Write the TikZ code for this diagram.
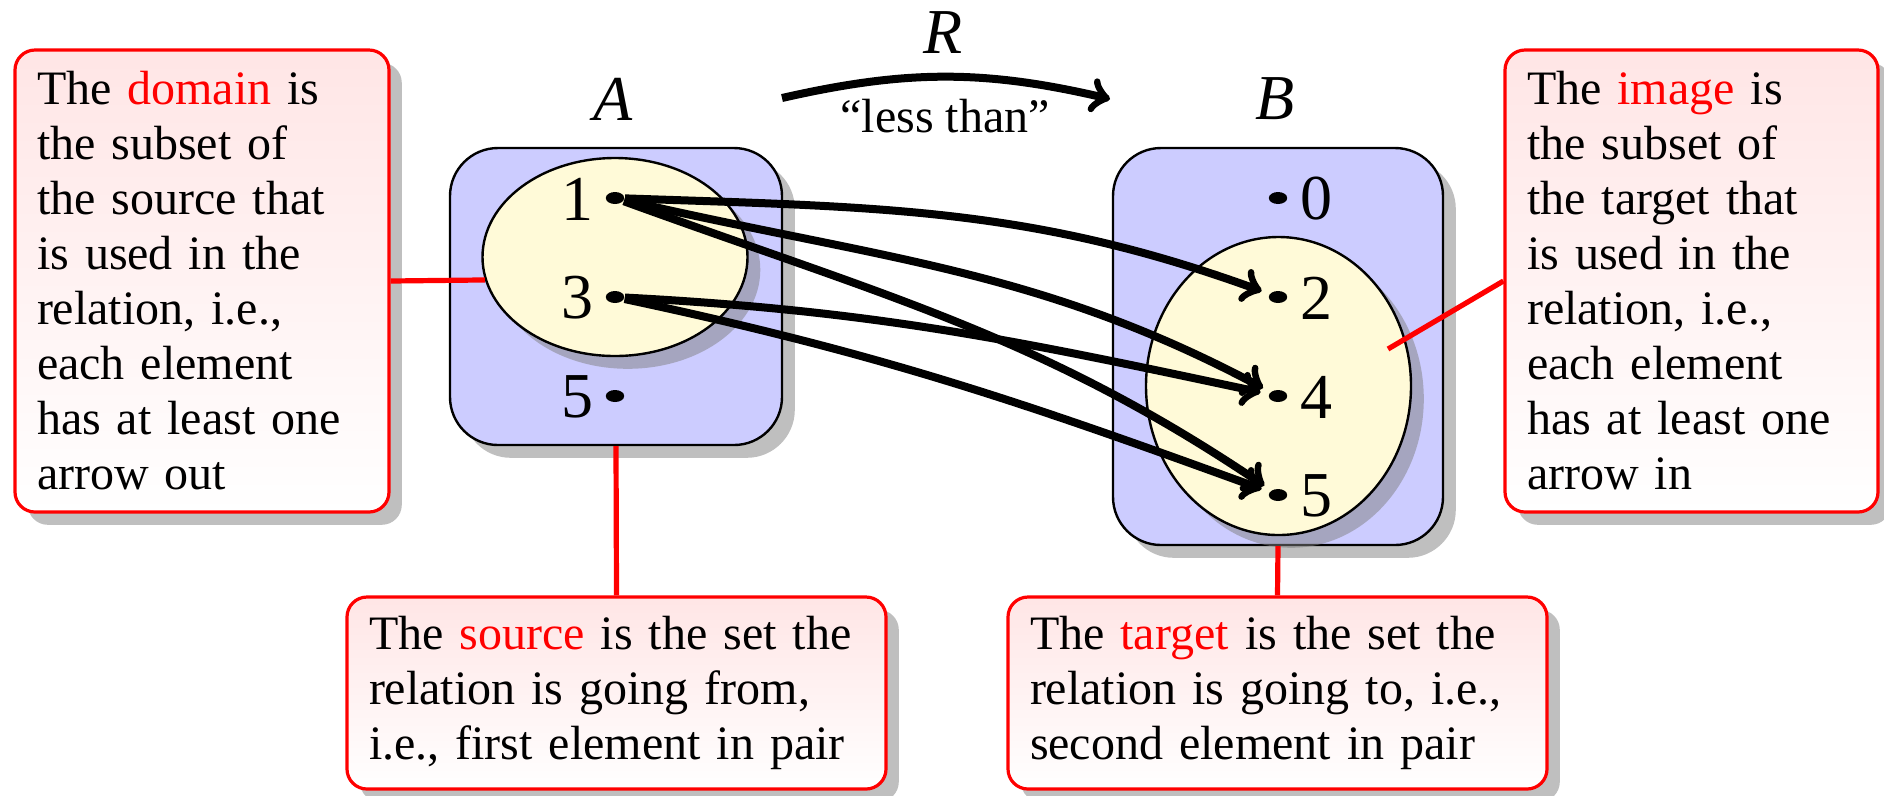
\documentclass[tikz,border=0pt]{standalone}
\usepackage{fontspec}
\setmainfont{Liberation Serif}
\usetikzlibrary{shapes.geometric,shadows}
\definecolor{setblue}{RGB}{204,204,255}
\definecolor{cream}{RGB}{255,250,216}
\begin{document}
\begin{tikzpicture}[x=0.25pt,y=-0.25pt,
  shad/.style={drop shadow={shadow xshift=3.2pt,shadow yshift=-3.2pt}},
  callout/.style={draw=red, line width=0.8pt, rounded corners=5pt, top color=red!10, bottom color=white,
    shad, align=left, font=\fontsize{12}{13.75}\selectfont, inner xsep=5.5pt, inner ysep=0pt},
  setbox/.style={draw=black, line width=0.6pt, fill=setblue, rounded corners=12pt, shad, inner sep=0pt},
  subset/.style={ellipse, draw=black, line width=0.6pt, fill=cream, shad, inner sep=0pt},
  dot/.style={ellipse, fill=black, inner sep=0pt, minimum width=4.6pt, minimum height=3pt},
  num/.style={font=\fontsize{16}{18}\selectfont, inner sep=0pt},
  setname/.style={font=\fontsize{16}{18}\selectfont\itshape, inner sep=0pt},
  rel/.style={->, line width=2pt},
  conn/.style={draw=red, line width=1.3pt}
]
\useasboundingbox (0,0) rectangle (1884,795);
\fill[white] (0,0) rectangle (1884,795);

% callouts
\node[callout, minimum width=93.5pt, minimum height=115.5pt, text width=82.5pt] (domain) at (202,281)
  {The \textcolor{red}{domain} is\\the subset of\\the source that\\is used in the\\relation, i.e.,\\each element\\has at least one\\arrow out};
\node[callout, minimum width=93.25pt, minimum height=115.5pt, text width=82.25pt] (image) at (1691.5,281)
  {The \textcolor{red}{image} is\\the subset of\\the target that\\is used in the\\relation, i.e.,\\each element\\has at least one\\arrow in};
\node[callout, minimum width=134.75pt, minimum height=48pt, text width=123.75pt] (source) at (616.5,693)
  {The \textcolor{red}{source} is the set the\\relation is going from,\\i.e., first element in pair};
\node[callout, minimum width=134.75pt, minimum height=48pt, text width=123.75pt] (target) at (1277.5,693)
  {The \textcolor{red}{target} is the set the\\relation is going to, i.e.,\\second element in pair};

% sets
\node[setbox, minimum width=83pt, minimum height=74.25pt] (setA) at (616,296.5) {};
\node[setbox, minimum width=82.5pt, minimum height=99.25pt] (setB) at (1278,346.5) {};
\node[subset, minimum width=66.25pt, minimum height=49.5pt] (ellA) at (615,257) {};
\node[subset, minimum width=66.25pt, minimum height=74.5pt] (ellB) at (1278.5,386) {};

% set names
\node[setname] (nameA) at (613,99) {A};
\node[setname] (nameB) at (1275,99) {B};

% elements of A
\node[dot] (a1) at (615,198) {};
\node[dot] (a3) at (615,297) {};
\node[dot] (a5) at (615,396) {};
\node[num] (la1) at (577,199) {1};
\node[num] (la3) at (577,298) {3};
\node[num] (la5) at (577,397) {5};

% elements of B
\node[dot] (b0) at (1278,198) {};
\node[dot] (b2) at (1278,297) {};
\node[dot] (b4) at (1278,396) {};
\node[dot] (b5) at (1278,495) {};
\node[num] (lb0) at (1316,199) {0};
\node[num] (lb2) at (1316,298) {2};
\node[num] (lb4) at (1316,397) {4};
\node[num] (lb5) at (1316,496) {5};

% relation arrows
\draw[rel, shorten >=2pt] (a1) to[out=-2,in=160] (b2);
\draw[rel, shorten >=2pt] (a1) to[out=-13,in=152] (b4);
\draw[rel, shorten >=2pt] (a1) to[out=-20,in=146] (b5);
\draw[rel, shorten >=2pt] (a3) to[out=-3,in=168] (b4);
\draw[rel, shorten >=2pt] (a3) to[out=-12,in=160] (b5);

% R arrow
\coordinate (rs) at (782,98);
\coordinate (re) at (1110,99);
\draw[rel] (rs) to[bend left=13] (re);
\node[setname] (Rname) at (943,33) {R};
\node[font=\fontsize{12}{13.75}\selectfont, inner sep=0pt, anchor=base] (lt) at (945,132) {``less than''};

% red connectors
\coordinate (imgpt) at (1388,349);
\draw[conn] (domain.east) -- (ellA.190.6);
\draw[conn] (setA.south) -- (source.north);
\draw[conn] (setB.south) -- (target.north);
\draw[conn] (image.west) -- (imgpt);
\end{tikzpicture}
\end{document}
